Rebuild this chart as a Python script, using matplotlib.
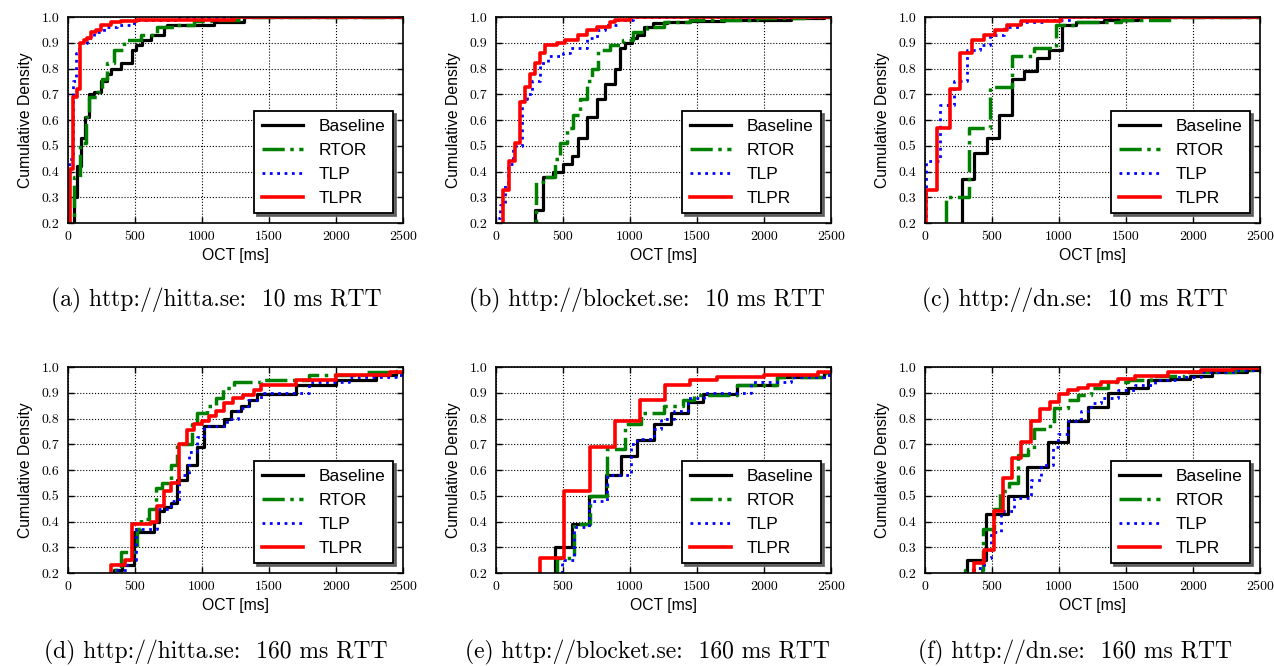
import matplotlib
matplotlib.use("Agg")
import matplotlib.pyplot as plt

plt.rcParams['font.family'] = ['Liberation Sans', 'DejaVu Sans']
plt.rcParams['axes.linewidth'] = 1.2

SERIES = ['Baseline', 'RTOR', 'TLP', 'TLPR']
CAPTIONS = ['(a) http://hitta.se:  10 ms RTT', '(b) http://blocket.se:  10 ms RTT',
            '(c) http://dn.se:  10 ms RTT', '(d) http://hitta.se:  160 ms RTT',
            '(e) http://blocket.se:  160 ms RTT', '(f) http://dn.se:  160 ms RTT']

# (a) hitta.se, 10 ms RTT -- OCT [ms] where the CDF steps up, and the new level
hitta10_base_ms = [45, 65, 100, 125, 157, 194, 244, 294, 319, 393, 480, 505, 555, 617, 717, 742, 1090, 1310]
hitta10_base_cdf = [0.30, 0.42, 0.53, 0.61, 0.70, 0.71, 0.75, 0.78, 0.80, 0.82, 0.87, 0.89, 0.91, 0.93, 0.96, 0.97, 0.98, 1.0]
hitta10_rtor_ms = [45, 90, 132, 157, 219, 256, 294, 344, 418, 543, 667, 792, 941, 1066, 1300]
hitta10_rtor_cdf = [0.38, 0.51, 0.61, 0.69, 0.71, 0.76, 0.82, 0.87, 0.91, 0.93, 0.96, 0.97, 0.985, 0.99, 1.0]
hitta10_tlp_ms = [7, 40, 57, 82, 144, 194, 269, 368, 493, 817]
hitta10_tlp_cdf = [0.45, 0.75, 0.86, 0.90, 0.92, 0.94, 0.96, 0.97, 0.99, 1.0]
hitta10_tlpr_ms = [15, 35, 70, 90, 120, 144, 169, 207, 244, 319, 393, 518, 1240]
hitta10_tlpr_cdf = [0.41, 0.69, 0.72, 0.90, 0.91, 0.92, 0.94, 0.95, 0.97, 0.98, 0.985, 0.99, 1.0]

# (b) blocket.se, 10 ms RTT
blocket10_base_ms = [291, 354, 428, 503, 565, 615, 677, 752, 814, 889, 926, 964, 1013, 1051, 1101, 1175, 1275, 1449, 1700, 2200, 2450]
blocket10_base_cdf = [0.25, 0.38, 0.40, 0.43, 0.46, 0.53, 0.61, 0.68, 0.74, 0.80, 0.88, 0.90, 0.92, 0.93, 0.96, 0.975, 0.98, 0.985, 0.99, 0.995, 1.0]
blocket10_rtor_ms = [300, 354, 441, 478, 528, 578, 627, 677, 715, 764, 852, 951, 1026, 1125, 1250, 1449, 1947, 2300]
blocket10_rtor_cdf = [0.36, 0.38, 0.45, 0.51, 0.57, 0.62, 0.68, 0.75, 0.80, 0.87, 0.89, 0.91, 0.94, 0.96, 0.98, 0.99, 0.995, 1.0]
blocket10_tlp_ms = [5, 30, 67, 92, 129, 192, 229, 266, 329, 391, 503, 553, 677, 752, 814, 901, 1026]
blocket10_tlp_cdf = [0.22, 0.27, 0.35, 0.43, 0.50, 0.68, 0.70, 0.75, 0.82, 0.85, 0.86, 0.88, 0.92, 0.95, 0.97, 0.99, 1.0]
blocket10_tlpr_ms = [55, 100, 142, 179, 217, 254, 291, 329, 366, 453, 515, 615, 677, 752, 852, 889, 1000]
blocket10_tlpr_cdf = [0.33, 0.44, 0.51, 0.67, 0.73, 0.78, 0.82, 0.86, 0.89, 0.90, 0.91, 0.93, 0.95, 0.96, 0.98, 0.99, 1.0]

# (c) dn.se, 10 ms RTT
dn10_base_ms = [275, 363, 463, 550, 650, 738, 838, 925, 1025, 1125, 1338, 1588]
dn10_base_cdf = [0.37, 0.47, 0.53, 0.62, 0.76, 0.79, 0.84, 0.87, 0.97, 0.98, 0.99, 1.0]
dn10_rtor_ms = [158, 325, 488, 650, 813, 975, 1138, 1463, 1838]
dn10_rtor_cdf = [0.30, 0.57, 0.73, 0.85, 0.88, 0.97, 0.98, 0.99, 1.0]
dn10_tlp_ms = [5, 113, 213, 313, 413, 488, 588, 713, 913, 1100]
dn10_tlp_cdf = [0.44, 0.66, 0.75, 0.87, 0.89, 0.93, 0.96, 0.98, 0.99, 1.0]
dn10_tlpr_ms = [8, 88, 183, 263, 350, 438, 525, 613, 713, 1013]
dn10_tlpr_cdf = [0.33, 0.57, 0.72, 0.86, 0.91, 0.93, 0.95, 0.97, 0.985, 1.0]

# (d) hitta.se, 160 ms RTT
hitta160_base_ms = [344, 406, 493, 642, 680, 717, 767, 817, 891, 966, 1016, 1165, 1215, 1290, 1352, 1414, 1700, 2000, 2300, 2450]
hitta160_base_cdf = [0.21, 0.23, 0.36, 0.40, 0.44, 0.455, 0.47, 0.56, 0.62, 0.69, 0.77, 0.80, 0.83, 0.85, 0.87, 0.895, 0.93, 0.95, 0.97, 0.98]
hitta160_rtor_ms = [356, 393, 518, 543, 605, 655, 705, 767, 817, 929, 966, 1041, 1103, 1153, 1240, 1439, 1800, 2200, 2450]
hitta160_rtor_cdf = [0.22, 0.28, 0.37, 0.41, 0.45, 0.53, 0.55, 0.62, 0.70, 0.78, 0.82, 0.85, 0.88, 0.92, 0.94, 0.95, 0.97, 0.98, 0.985]
hitta160_tlp_ms = [356, 443, 506, 667, 767, 829, 904, 966, 1016, 1190, 1265, 1340, 1439, 1800, 2100, 2450]
hitta160_tlp_cdf = [0.21, 0.25, 0.37, 0.45, 0.48, 0.58, 0.67, 0.73, 0.77, 0.80, 0.84, 0.87, 0.90, 0.94, 0.96, 0.97]
hitta160_tlpr_ms = [319, 428, 481, 618, 667, 717, 767, 829, 886, 941, 1003, 1053, 1103, 1165, 1228, 1303, 1389, 1439, 1700, 2000, 2400]
hitta160_tlpr_cdf = [0.23, 0.25, 0.39, 0.40, 0.46, 0.52, 0.55, 0.70, 0.755, 0.78, 0.79, 0.81, 0.83, 0.86, 0.88, 0.89, 0.91, 0.93, 0.95, 0.97, 0.98]

# (e) blocket.se, 160 ms RTT
blocket160_base_ms = [443, 568, 693, 818, 930, 1055, 1180, 1305, 1430, 1543, 1800, 2100, 2450]
blocket160_base_cdf = [0.30, 0.39, 0.50, 0.58, 0.655, 0.715, 0.78, 0.82, 0.865, 0.895, 0.93, 0.96, 0.98]
blocket160_rtor_ms = [455, 580, 705, 830, 960, 1080, 1255, 1393, 1480, 1800, 2100, 2450]
blocket160_rtor_cdf = [0.26, 0.39, 0.50, 0.68, 0.78, 0.82, 0.85, 0.87, 0.89, 0.93, 0.96, 0.975]
blocket160_tlp_ms = [493, 580, 693, 830, 1005, 1055, 1180, 1230, 1330, 1430, 1550, 1900, 2200, 2450]
blocket160_tlp_cdf = [0.25, 0.38, 0.48, 0.58, 0.70, 0.72, 0.76, 0.80, 0.83, 0.88, 0.90, 0.94, 0.96, 0.97]
blocket160_tlpr_ms = [325, 505, 700, 885, 1075, 1260, 1450, 1650, 2000, 2400]
blocket160_tlpr_cdf = [0.26, 0.52, 0.69, 0.79, 0.87, 0.93, 0.95, 0.96, 0.97, 0.98]

# (f) dn.se, 160 ms RTT
dn160_base_ms = [311, 455, 617, 762, 916, 1066, 1215, 1365, 1514, 1664, 1825, 1975, 2140, 2400]
dn160_base_cdf = [0.25, 0.43, 0.50, 0.61, 0.71, 0.79, 0.845, 0.90, 0.92, 0.95, 0.955, 0.965, 0.98, 0.99]
dn160_rtor_ms = [301, 431, 518, 563, 630, 692, 767, 817, 916, 966, 1066, 1140, 1240, 1365, 1514, 1689, 1938, 2311]
dn160_rtor_cdf = [0.21, 0.37, 0.45, 0.52, 0.55, 0.66, 0.68, 0.76, 0.77, 0.84, 0.87, 0.89, 0.92, 0.94, 0.95, 0.965, 0.98, 0.99]
dn160_tlp_ms = [368, 443, 493, 568, 667, 792, 866, 954, 991, 1066, 1165, 1240, 1315, 1440, 1564, 1714, 1863, 2062, 2311]
dn160_tlp_cdf = [0.22, 0.26, 0.36, 0.44, 0.49, 0.56, 0.62, 0.69, 0.74, 0.79, 0.83, 0.86, 0.88, 0.91, 0.93, 0.95, 0.96, 0.98, 0.99]
dn160_tlpr_ms = [368, 438, 513, 580, 647, 717, 792, 861, 936, 1003, 1066, 1140, 1215, 1315, 1440, 1564, 1813, 2062, 2300]
dn160_tlpr_cdf = [0.24, 0.29, 0.44, 0.57, 0.645, 0.71, 0.79, 0.835, 0.865, 0.895, 0.91, 0.92, 0.93, 0.94, 0.955, 0.965, 0.98, 0.99, 0.995]

panels = [
    [(hitta10_base_ms, hitta10_base_cdf), (hitta10_rtor_ms, hitta10_rtor_cdf),
     (hitta10_tlp_ms, hitta10_tlp_cdf), (hitta10_tlpr_ms, hitta10_tlpr_cdf)],
    [(blocket10_base_ms, blocket10_base_cdf), (blocket10_rtor_ms, blocket10_rtor_cdf),
     (blocket10_tlp_ms, blocket10_tlp_cdf), (blocket10_tlpr_ms, blocket10_tlpr_cdf)],
    [(dn10_base_ms, dn10_base_cdf), (dn10_rtor_ms, dn10_rtor_cdf),
     (dn10_tlp_ms, dn10_tlp_cdf), (dn10_tlpr_ms, dn10_tlpr_cdf)],
    [(hitta160_base_ms, hitta160_base_cdf), (hitta160_rtor_ms, hitta160_rtor_cdf),
     (hitta160_tlp_ms, hitta160_tlp_cdf), (hitta160_tlpr_ms, hitta160_tlpr_cdf)],
    [(blocket160_base_ms, blocket160_base_cdf), (blocket160_rtor_ms, blocket160_rtor_cdf),
     (blocket160_tlp_ms, blocket160_tlp_cdf), (blocket160_tlpr_ms, blocket160_tlpr_cdf)],
    [(dn160_base_ms, dn160_base_cdf), (dn160_rtor_ms, dn160_rtor_cdf),
     (dn160_tlp_ms, dn160_tlp_cdf), (dn160_tlpr_ms, dn160_tlpr_cdf)],
]

styles = [dict(color='k', ls='-', lw=2.3),
          dict(color=(0, 0.5, 0), ls='-.', lw=2.5),
          dict(color='b', ls=':', lw=2.0),
          dict(color='r', ls='-', lw=2.6)]

fig = plt.figure(figsize=(12.74, 6.66), dpi=100)

lefts = [68, 496, 925]
centers = [216, 647, 1075]
bottoms = [223, 573]
cap_y = [300, 652]
W, H = 335, 206

for i, series in enumerate(panels):
    row, col = divmod(i, 3)
    ax = fig.add_axes([lefts[col] / 1274, 1 - bottoms[row] / 666, W / 1274, H / 666])
    for (xs, ys), name, st in zip(series, SERIES, styles):
        # start below the visible range and carry the last level past 2500
        x = [0] + list(xs) + [2700]
        y = [0.0] + list(ys) + [ys[-1]]
        ax.step(x, y, where='post', label=name, **st)
    ax.set_xlim(0, 2500)
    ax.set_ylim(0.2, 1.0)
    ax.set_xticks([0, 500, 1000, 1500, 2000, 2500])
    ax.set_yticks([0.2, 0.3, 0.4, 0.5, 0.6, 0.7, 0.8, 0.9, 1.0])
    ax.set_yticklabels(['%.1f' % v for v in ax.get_yticks()])
    ax.tick_params(direction='in', top=True, right=True, length=4, width=1, pad=6)
    for lab in ax.get_xticklabels() + ax.get_yticklabels():
        lab.set_fontfamily('cmr10')
        lab.set_fontsize(10)
    ax.grid(True, color='k', ls=':', lw=0.8)
    ax.set_xlabel('OCT [ms]', fontsize=11.3, labelpad=3)
    ax.set_ylabel('Cumulative Density', fontsize=11.3, labelpad=6)
    leg = ax.legend(loc='lower right', fontsize=12.5, fancybox=False, framealpha=1,
                    edgecolor='k', shadow={'color': '0.35', 'alpha': 0.9},
                    handlelength=2.4, handletextpad=0.9, labelspacing=0.5,
                    borderpad=0.45, borderaxespad=0.55)
    leg.get_frame().set_linewidth(1.3)
    fig.text(centers[col] / 1274, 1 - cap_y[row] / 666, CAPTIONS[i],
             ha='center', va='center', fontsize=17, fontfamily='cmr10')

fig.savefig('out.png', dpi=100)
